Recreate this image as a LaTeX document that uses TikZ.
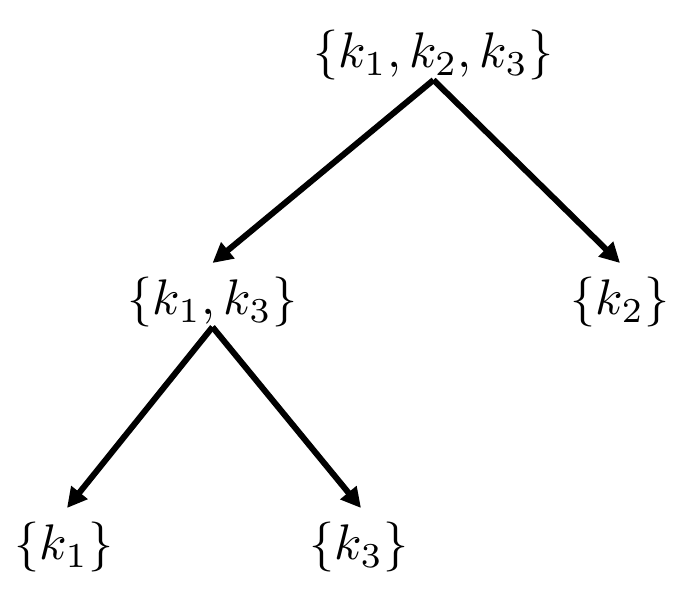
\documentclass[tikz,border=0pt]{standalone}
\usepackage{graphicx}
\usetikzlibrary{arrows.meta}
\newcommand{\setlbl}[1]{\scalebox{5.0}{$#1$}}
\begin{document}
\begin{tikzpicture}[x=1pt,y=-1pt,
  lbl/.style={inner sep=0pt,outer sep=0pt},
  arr/.style={line width=6pt,-{Triangle[length=20pt,width=20pt]}}]
\useasboundingbox (0,0) rectangle (692,598);
\node[lbl] (root) at (433.5,55) {\setlbl{\{k_1,k_2,k_3\}}};
\node[lbl] (n13) at (212.5,302) {\setlbl{\{k_1,k_3\}}};
\node[lbl] (n2) at (620,302) {\setlbl{\{k_2\}}};
\node[lbl] (n1) at (64,547) {\setlbl{\{k_1\}}};
\node[lbl] (n3) at (359,547) {\setlbl{\{k_3\}}};
\draw[arr] (root.south) -- ([yshift=14pt]n13.north);
\draw[arr] (root.south) -- ([yshift=14pt]n2.north);
\draw[arr] (n13.south) -- ([xshift=3pt,yshift=14pt]n1.north);
\draw[arr] (n13.south) -- ([xshift=2pt,yshift=14pt]n3.north);
\end{tikzpicture}
\end{document}
